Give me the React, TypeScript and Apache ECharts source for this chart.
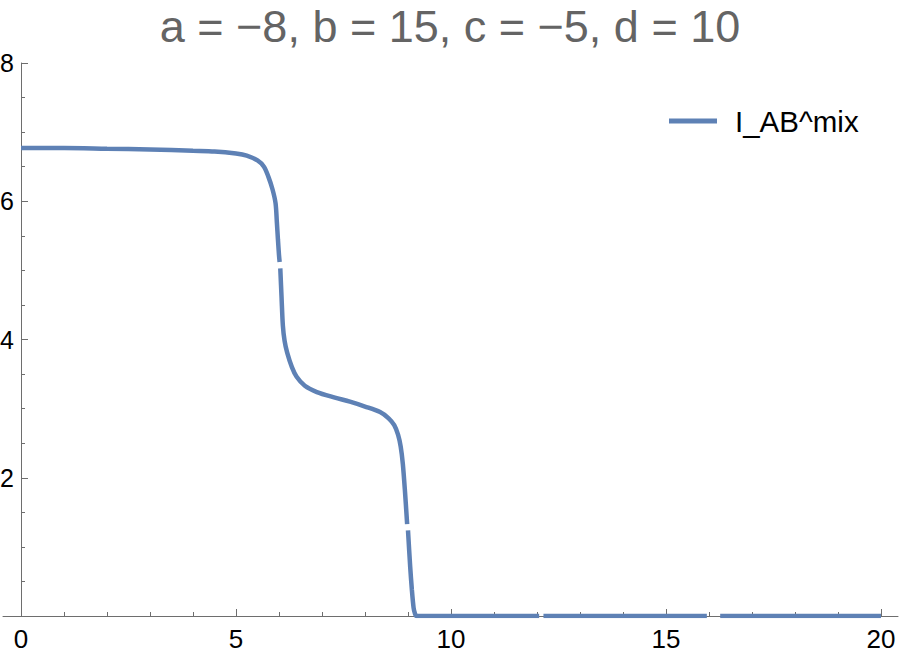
import React, { useEffect, useRef } from "react";
import * as echarts from "echarts";

const TITLE = "a = −8, b = 15, c = −5, d = 10";
const SERIES_NAME = "I_AB^mix";

const X_VALUES = [
  0, 1, 2, 3, 4, 4.5, 5, 5.25, 5.5, 5.65, 5.75, 5.85, 5.92, 5.95, 5.975, 6.0, 6.015, 6.022,
  6.03, 6.06, 6.09, 6.13, 6.19, 6.3, 6.41, 6.6, 6.88, 7.3, 7.65, 8.0, 8.35, 8.55, 8.68, 8.77,
  8.83, 8.88, 8.93, 8.98, 8.99, 9.0, 9.05, 9.09, 9.13, 9.16, 9.2, 10, 11, 12.05, 12.1,
  12.15, 13, 14, 15, 15.95, 16.1, 16.26, 17, 18, 19, 20,
];
const Y_VALUES: (number | null)[] = [
  6.77, 6.77, 6.76, 6.75, 6.73, 6.72, 6.69, 6.66, 6.59, 6.5, 6.36, 6.17, 5.97, 5.7, 5.45, 5.22, 5.12, null,
  5.03, 4.6, 4.2, 3.98, 3.81, 3.6, 3.46, 3.33, 3.24, 3.16, 3.1, 3.03, 2.95, 2.86, 2.76, 2.62,
  2.45, 2.2, 1.8, 1.33, null, 1.24, 0.72, 0.38, 0.12, 0.04, 0, 0, 0, 0, null,
  0, 0, 0, 0, 0, null, 0, 0, 0, 0, 0,
];

const X_MAJOR_TICKS = [0, 5, 10, 15, 20];
const X_MINOR_TICKS = [1, 2, 3, 4, 6, 7, 8, 9, 11, 12, 13, 14, 16, 17, 18, 19];
const X_MIN = 0;
const X_MAX = 20;
const Y_MIN = 0;
const Y_MAX = 8;
const Y_INTERVAL = 2;

// the drawn x axis line runs a little past the plot range on both sides
const X_AXIS_LINE_MIN = -0.419;
const X_AXIS_LINE_MAX = 20.395;

const LINE_COLOR = "#5E81B5";
const AXIS_COLOR = "#6E6E6E";
const FONT = "'Liberation Sans', Arial, Helvetica, sans-serif";

export default function App() {
  const ref = useRef<HTMLDivElement>(null);

  useEffect(() => {
    if (!ref.current) return;
    const chart = echarts.init(ref.current, undefined, { renderer: "svg" });
    const data = X_VALUES.map((x, i) => [x, Y_VALUES[i] === null ? "-" : Y_VALUES[i]]);

    const outerX = {
      type: "value",
      gridIndex: 0,
      min: X_AXIS_LINE_MIN,
      max: X_AXIS_LINE_MAX,
      position: "bottom",
      splitLine: { show: false },
    };

    chart.setOption({
      animation: false,
      backgroundColor: "#ffffff",
      textStyle: { fontFamily: FONT },
      title: {
        text: TITLE,
        left: "center",
        top: 0,
        padding: [4, 0, 0, 0],
        textStyle: {
          fontFamily: FONT,
          fontSize: 45,
          fontWeight: "normal",
          color: "#646464",
        },
      },
      legend: {
        data: [SERIES_NAME],
        left: 669,
        top: 106,
        padding: 0,
        itemWidth: 48,
        itemHeight: 5,
        icon: "rect",
        textStyle: {
          fontFamily: FONT,
          fontSize: 29.5,
          color: "#000000",
          padding: [0, 0, 0, 13],
        },
      },
      grid: [
        { left: 3, right: 2, top: 63, bottom: 38, containLabel: false, outerBoundsMode: "none" },
        { left: 21, right: 19, top: 63, bottom: 38, containLabel: false, outerBoundsMode: "none" },
      ],
      xAxis: [
        {
          ...outerX,
          axisLine: { show: true, onZero: false, lineStyle: { color: AXIS_COLOR, width: 1 } },
          axisTick: {
            show: true,
            inside: true,
            length: 7,
            customValues: X_MAJOR_TICKS,
            lineStyle: { color: AXIS_COLOR, width: 1 },
          },
          axisLabel: {
            show: true,
            customValues: X_MAJOR_TICKS,
            margin: 10,
            fontSize: 26,
            fontFamily: FONT,
            color: "#000000",
          },
        },
        {
          ...outerX,
          axisLine: { show: false, onZero: false },
          axisTick: {
            show: true,
            inside: true,
            length: 4,
            customValues: X_MINOR_TICKS,
            lineStyle: { color: AXIS_COLOR, width: 1 },
          },
          axisLabel: { show: false },
        },
        {
          type: "value",
          gridIndex: 1,
          min: X_MIN,
          max: X_MAX,
          show: false,
          splitLine: { show: false },
        },
      ],
      yAxis: [
        {
          type: "value",
          gridIndex: 0,
          min: Y_MIN,
          max: Y_MAX,
          show: false,
          splitLine: { show: false },
        },
        {
          type: "value",
          gridIndex: 1,
          min: Y_MIN,
          max: Y_MAX,
          interval: Y_INTERVAL,
          position: "left",
          splitLine: { show: false },
          axisLine: {
            show: true,
            onZero: false,
            lineStyle: { color: AXIS_COLOR, width: 1 },
          },
          axisTick: { show: true, inside: true, length: 7, lineStyle: { color: AXIS_COLOR, width: 1 } },
          minorTick: { show: true, splitNumber: 4, length: 4, lineStyle: { color: AXIS_COLOR, width: 1 } },
          axisLabel: {
            margin: 7,
            fontSize: 25,
            fontFamily: FONT,
            color: "#000000",
            showMinLabel: false,
            formatter: (v: number) => (v === 0 ? "" : String(v)),
          },
        },
      ],
      series: [
        {
          name: SERIES_NAME,
          type: "line",
          xAxisIndex: 2,
          yAxisIndex: 1,
          data,
          showSymbol: false,
          symbol: "none",
          smooth: 0.3,
          connectNulls: false,
          lineStyle: { color: LINE_COLOR, width: 4.5 },
          itemStyle: { color: LINE_COLOR },
          z: 5,
        },
      ],
    });

    return () => chart.dispose();
  }, []);

  return (
    <div
      ref={ref}
      style={{ position: "fixed", left: 0, top: 0, width: 900, height: 654, background: "#fff" }}
    />
  );
}
